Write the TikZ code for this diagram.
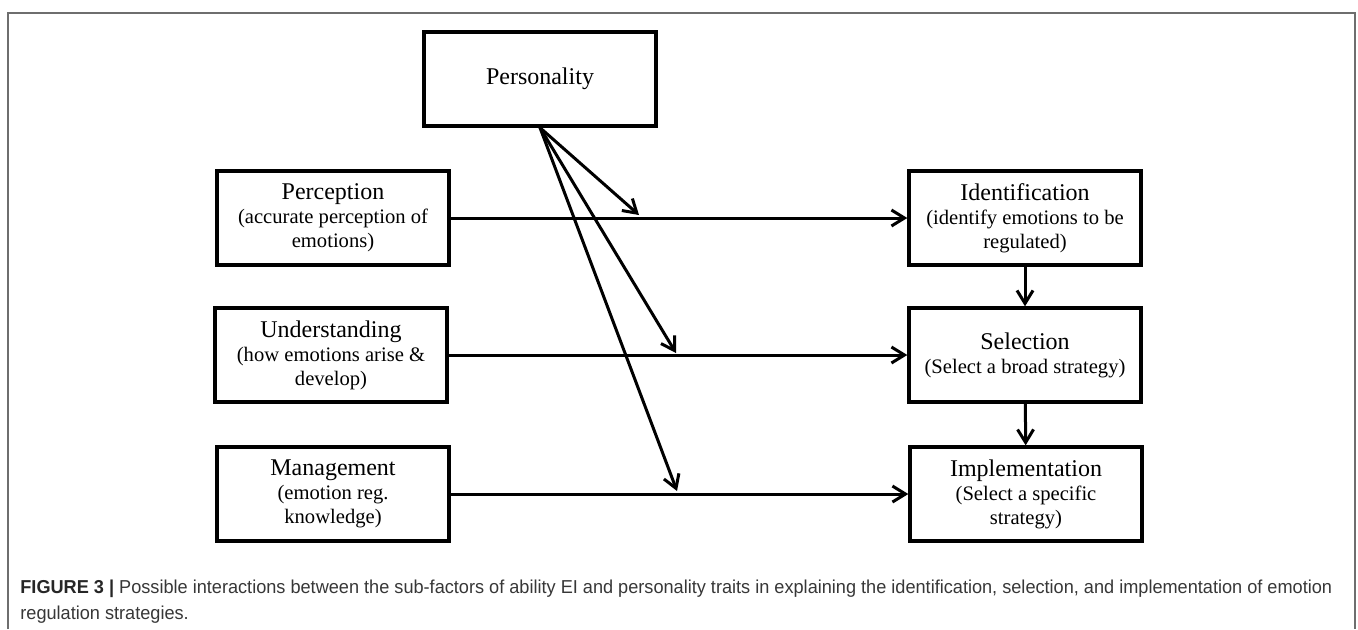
\documentclass[tikz,border=0pt]{standalone}
\usepackage{fontspec}
\setmainfont{Liberation Serif}
\newfontfamily\capfont[FakeStretch=0.97]{Liberation Sans}
\usetikzlibrary{arrows.meta,positioning}
\definecolor{framegray}{RGB}{110,110,110}
\definecolor{captiongray}{RGB}{55,55,55}
\newcommand{\boxtitle}{\fontsize{12}{13}\selectfont}
\newcommand{\boxsub}{\fontsize{10.3}{12.5}\selectfont}

\begin{document}
\begin{tikzpicture}[x=0.5pt,y=-0.5pt,
    stage/.style={draw,line width=1.7pt,minimum width=116pt,minimum height=47pt,
                  align=center,inner sep=2pt},
    link/.style={line width=1.5pt,-{Straight Barb[length=6.5pt,width=8pt]}}]
  \useasboundingbox (0,0) rectangle (1358,629);
  \draw[framegray,line width=0.7pt] (8,629) -- (8,13) -- (1355,13) -- (1355,629);

  % top
  \node[stage] (pers) at (540,79) {\boxtitle Personality};

  % ability EI branches
  \node[stage] (perc) at (333,218)
    {{\boxtitle Perception}\\{\boxsub (accurate perception of}\\{\boxsub emotions)}};
  \node[stage] (und) at (331,355)
    {{\boxtitle Understanding}\\{\boxsub (how emotions arise \&}\\{\boxsub develop)}};
  \node[stage] (mgmt) at (333,494)
    {{\boxtitle Management}\\{\boxsub (emotion reg.}\\{\boxsub knowledge)}};

  % regulation stages
  \node[stage] (ident) at (1025,218)
    {{\boxtitle Identification}\\{\boxsub (identify emotions to be}\\{\boxsub regulated)}};
  \node[stage] (sel) at (1025,355)
    {{\boxtitle Selection}\\{\boxsub (Select a broad strategy)}};
  \node[stage] (impl) at (1026,494)
    {{\boxtitle Implementation}\\{\boxsub (Select a specific}\\{\boxsub strategy)}};

  \draw[link] (perc) -- (ident);
  \draw[link] (und) -- (sel);
  \draw[link] (mgmt) -- (impl);
  \draw[link] (ident) -- (sel);
  \draw[link] (sel) -- (impl);

  % moderation by personality
  \coordinate (m1) at (639,215);
  \coordinate (m2) at (676,353);
  \coordinate (m3) at (677,491);
  \foreach \m in {m1,m2,m3}
    \draw[link] (pers.south) -- (\m);

  \node[anchor=north west,align=left,inner sep=0pt,text=captiongray,
        font=\capfont\fontsize{9.35}{12.8}\selectfont] (caption) at (20,580)
    {{\color{black!85}\textbf{FIGURE 3 |}} Possible interactions between the sub-factors of ability EI and personality traits in explaining the identification, selection, and implementation of emotion\\regulation strategies.};
\end{tikzpicture}
\end{document}
